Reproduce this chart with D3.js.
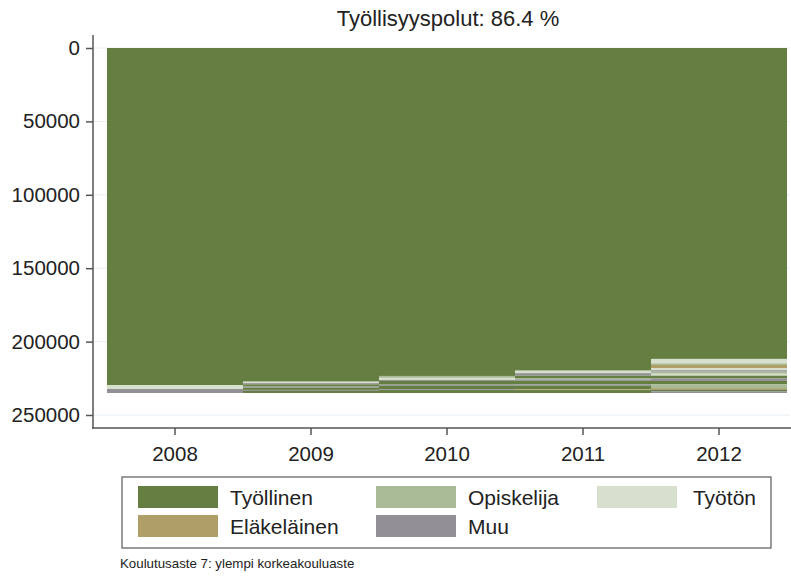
<!DOCTYPE html>
<html>
<head>
<meta charset="utf-8">
<script src="https://cdn.jsdelivr.net/npm/d3@7"></script>
<style>
  body { margin: 0; background: #fff; }
  text { font-family: "Liberation Sans", Arial, sans-serif; fill: #222; }
</style>
</head>
<body>
<div class="chart"></div>
<script>
// data
const years = [2008, 2009, 2010, 2011, 2012];
const states = ["Työllinen", "Opiskelija", "Työtön", "Eläkeläinen", "Muu"];
const yTicks = [0, 50000, 100000, 150000, 200000, 250000];
const title = "Työllisyyspolut: 86.4 %";
const caption = "Koulutusaste 7: ylempi korkeakouluaste";

// segments from top to bottom, [state, count]
const seq2008 = [["Työllinen", 229600], ["Työtön", 2700], ["Muu", 2700]];
const seq2009 = [["Työllinen", 227300], ["Työtön", 1000], ["Muu", 800],
                 ["Työllinen", 1500], ["Muu", 800], ["Työllinen", 1500], ["Muu", 700], ["Työllinen", 1400]];
const seq2010 = [["Työllinen", 223400], ["Opiskelija", 1300], ["Työtön", 1400],
                 ["Muu", 700], ["Työllinen", 2500], ["Muu", 800], ["Työllinen", 2300], ["Muu", 600], ["Työllinen", 2000]];
const seq2011 = [["Työllinen", 219800], ["Työtön", 1700], ["Muu", 1700], ["Työllinen", 1600],
                 ["Opiskelija", 900], ["Muu", 1000], ["Työllinen", 2500], ["Muu", 900],
                 ["Työllinen", 2400], ["Eläkeläinen", 500], ["Työllinen", 2000]];
const seq2012 = [["Työllinen", 211800], ["Työtön", 3000], ["Opiskelija", 1100], ["Eläkeläinen", 2300],
                 ["Työtön", 1300], ["Muu", 1000], ["Opiskelija", 1400], ["Työtön", 1300],
                 ["Työllinen", 1800], ["Muu", 1800], ["Työllinen", 2200], ["Opiskelija", 2700],
                 ["Eläkeläinen", 900], ["Työllinen", 1200], ["Muu", 1200]];
const sequences = [seq2008, seq2009, seq2010, seq2011, seq2012];

const color = d3.scaleOrdinal()
    .domain(states)
    .range(["#647f41", "#a9bb96", "#d7e0cd", "#b09e68", "#929095"]);

const width = 791, height = 577;

const svg = d3.select(".chart").append("svg")
    .attr("width", width)
    .attr("height", height);

const xScale = d3.scaleBand()
    .domain(years)
    .range([107, 787])
    .padding(0);

const yScale = d3.scaleLinear()
    .domain([0, 250000])
    .range([48, 415]);

// faint grid
svg.append("g")
    .selectAll("line")
    .data(yTicks)
    .join("line")
    .attr("x1", 94).attr("x2", 790)
    .attr("y1", d => yScale(d)).attr("y2", d => yScale(d))
    .attr("stroke", "#e9eff6")
    .attr("stroke-width", 1);

// stacked segments
const segs = [];
sequences.forEach((seq, i) => {
    let acc = 0;
    seq.forEach(([state, n]) => {
        segs.push({year: years[i], state: state, y0: acc, y1: acc + n});
        acc += n;
    });
});

svg.append("g")
    .selectAll("rect")
    .data(segs)
    .join("rect")
    .attr("x", d => xScale(d.year))
    .attr("width", xScale.bandwidth())
    .attr("y", d => yScale(d.y0))
    .attr("height", d => yScale(d.y1) - yScale(d.y0))
    .attr("fill", d => color(d.state));

// axes
const yAxis = d3.axisLeft(yScale)
    .tickValues(yTicks)
    .tickSize(7)
    .tickPadding(6)
    .tickFormat(d3.format("d"));

const yg = svg.append("g")
    .attr("transform", "translate(93,0)")
    .call(yAxis);
yg.select(".domain").remove();
yg.append("line")
    .attr("x1", 0).attr("x2", 0)
    .attr("y1", 35).attr("y2", 428.5)
    .attr("stroke", "#555").attr("stroke-width", 1.5);
yg.selectAll(".tick line").attr("stroke", "#555").attr("stroke-width", 1.5);
yg.selectAll(".tick text").attr("font-size", 20.5).attr("fill", "#222")
    .attr("font-family", "Liberation Sans, Arial, sans-serif");

const xAxis = d3.axisBottom(xScale)
    .tickSize(7)
    .tickPadding(11);

const xg = svg.append("g")
    .attr("transform", "translate(0,428)")
    .call(xAxis);
xg.select(".domain").remove();
xg.append("line")
    .attr("x1", 92).attr("x2", 791)
    .attr("y1", 0).attr("y2", 0)
    .attr("stroke", "#555").attr("stroke-width", 1.5);
xg.selectAll(".tick line").attr("stroke", "#555").attr("stroke-width", 1.5);
xg.selectAll(".tick text").attr("font-size", 20.5).attr("fill", "#222")
    .attr("font-family", "Liberation Sans, Arial, sans-serif");

// title
svg.append("text")
    .attr("x", 448)
    .attr("y", 26)
    .attr("text-anchor", "middle")
    .attr("font-size", 22)
    .text(title);

// legend
const legend = svg.append("g");
legend.append("rect")
    .attr("x", 122).attr("y", 477)
    .attr("width", 649).attr("height", 71)
    .attr("fill", "#fff")
    .attr("stroke", "#666").attr("stroke-width", 1.3);

const legPos = [[138, 486], [376, 486], [597, 486], [138, 515], [376, 515]];
states.forEach((s, i) => {
    const [lx, ly] = legPos[i];
    legend.append("rect")
        .attr("x", lx).attr("y", ly)
        .attr("width", 80).attr("height", 22)
        .attr("fill", color(s));
    const t = legend.append("text")
        .attr("y", ly + 18.5)
        .attr("font-size", 21)
        .text(s);
    if (s === "Työtön") {
        t.attr("x", 756).attr("text-anchor", "end");
    } else {
        t.attr("x", lx + 92);
    }
});

svg.append("text")
    .attr("x", 120)
    .attr("y", 568)
    .attr("font-size", 13.3)
    .text(caption);
</script>
</body>
</html>
